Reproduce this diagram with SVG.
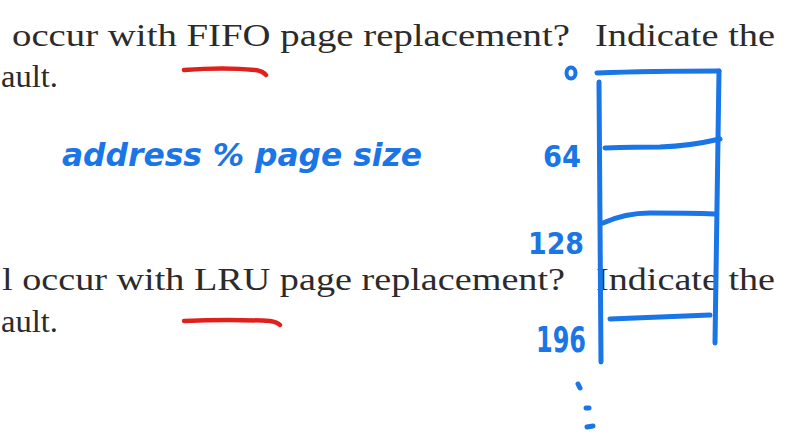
<svg xmlns="http://www.w3.org/2000/svg" width="812" height="443" viewBox="0 0 812 443">
<style>
.doc{font-family:"Liberation Serif","DejaVu Serif",serif;font-size:32px;fill:#2b2b2b}
.ink{fill:none;stroke:#1a75e6;stroke-width:5;stroke-linecap:round;stroke-linejoin:round}
.red{fill:none;stroke:#e0201c;stroke-width:4.5;stroke-linecap:round}
.hw{font-family:"DejaVu Sans Condensed","DejaVu Sans",sans-serif;font-weight:bold;fill:#1a75e6}
</style>
<rect width="812" height="443" fill="#ffffff"/>
<g id="document-text">
<text class="doc" x="12" y="46" textLength="558" lengthAdjust="spacingAndGlyphs">occur with FIFO page replacement?</text>
<text class="doc" x="595" y="46" textLength="180" lengthAdjust="spacingAndGlyphs">Indicate the</text>
<text class="doc" x="1" y="87" textLength="57" lengthAdjust="spacingAndGlyphs">ault.</text>
<text class="doc" x="2" y="290" textLength="563" lengthAdjust="spacingAndGlyphs">l occur with LRU page replacement?</text>
<text class="doc" x="596" y="290" textLength="179" lengthAdjust="spacingAndGlyphs">Indicate the</text>
<text class="doc" x="1" y="332" textLength="57" lengthAdjust="spacingAndGlyphs">ault.</text>
</g>
<g id="underlines">
<path class="red" d="M184 70 Q225 67 255 70 Q263 71 266 75"/>
<path class="red" d="M184 321 Q230 319 270 321 Q277 322 280 325"/>
</g>
<g id="formula">
<text class="hw" x="62" y="166" font-size="32" font-style="italic" textLength="360" lengthAdjust="spacingAndGlyphs">address % page size</text>
</g>
<g id="memory-box">
<path class="ink" d="M597 73 Q650 71 719 71"/>
<path class="ink" d="M599 82 L601 362"/>
<path class="ink" d="M719 71 L715 343"/>
<path class="ink" d="M605 148 Q635 147 660 147 Q690 146 720 139"/>
<path class="ink" d="M603 223 Q625 213 650 213 Q690 213 715 214"/>
<path class="ink" d="M610 319 Q660 317 710 315"/>
</g>
<g id="labels">
<ellipse cx="571" cy="73" rx="4.5" ry="5.5" fill="none" stroke="#1a75e6" stroke-width="4"/>
<text class="hw" x="543" y="167" font-size="30" textLength="38" lengthAdjust="spacingAndGlyphs">64</text>
<text class="hw" x="528" y="254" font-size="30" textLength="56" lengthAdjust="spacingAndGlyphs">128</text>
<text class="hw" x="536" y="352" font-size="36" textLength="50" lengthAdjust="spacingAndGlyphs">196</text>
<path class="ink" d="M578 384 L580 388"/>
<path class="ink" d="M586 408 L589 408"/>
<path class="ink" d="M587 427 L593 426"/>
</g>
</svg>
